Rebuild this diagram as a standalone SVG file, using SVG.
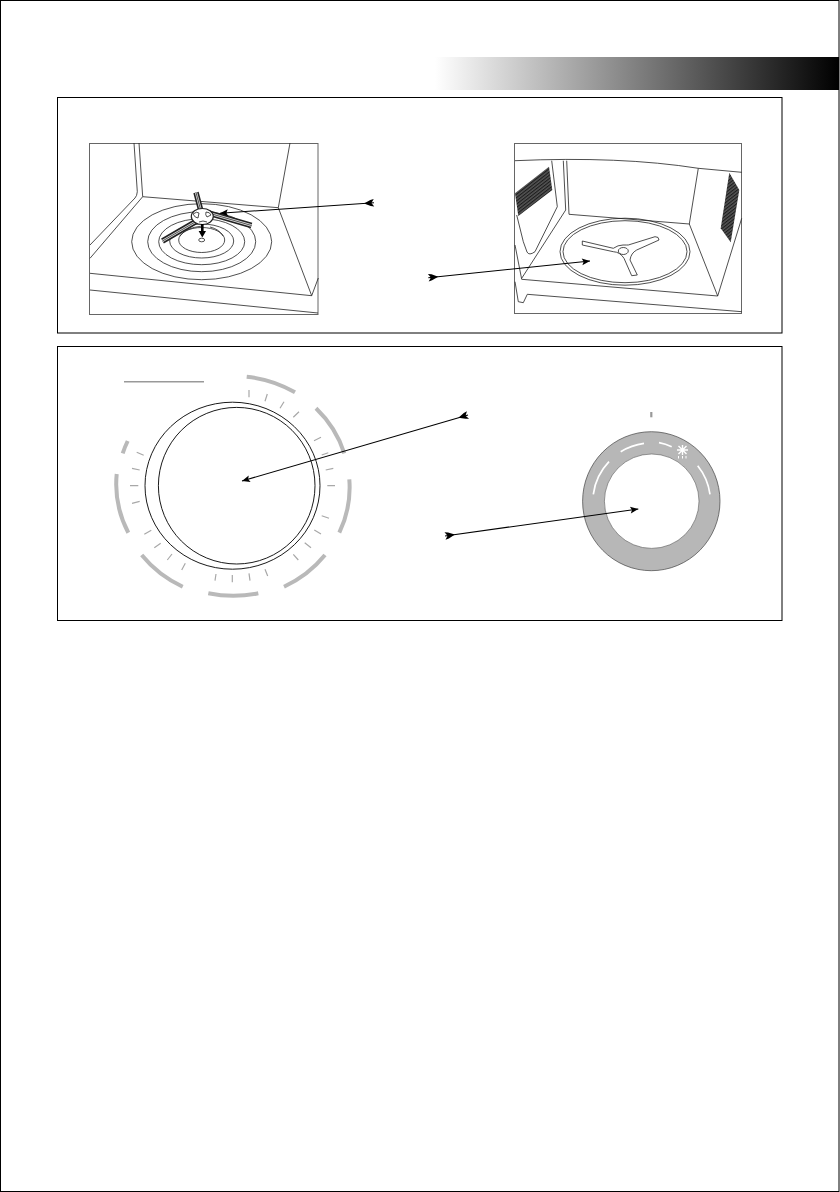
<svg xmlns="http://www.w3.org/2000/svg" width="840" height="1192" viewBox="0 0 840 1192">
<style>
.ink{fill:none;stroke:#222;stroke-width:.8}
.photo{fill:#fff;stroke:#666;stroke-width:1}
.panel{fill:#fff;stroke:#000;stroke-width:1}
.tick{stroke:#a8a8a8;stroke-width:1.2;fill:none}
.band{stroke:#b9b9b9;stroke-width:4;fill:none}
.slot{stroke:#fff;stroke-width:1.7;fill:none}
.lead{stroke:#000;stroke-width:1.1;fill:none;marker-start:url(#fletch);marker-end:url(#head)}
</style>
<defs>
<linearGradient id="fade" x1="0" y1="0" x2="1" y2="0"><stop offset="0" stop-color="#fff"/><stop offset="1" stop-color="#000"/></linearGradient>
<pattern id="mesh" width="2.6" height="2.6" patternUnits="userSpaceOnUse" patternTransform="rotate(-38)"><rect width="2.6" height="2.6" fill="#555"/><rect width="2.6" height="1.1" fill="#1c1c1c"/></pattern>
<marker id="head" markerUnits="userSpaceOnUse" markerWidth="12" markerHeight="12" refX="9" refY="6" orient="auto"><path d="M1,2.6 L9,6 L1,9.4 L2.6,6 Z" fill="#000"/></marker>
<marker id="fletch" markerUnits="userSpaceOnUse" markerWidth="14" markerHeight="12" refX="1" refY="6" orient="auto"><path d="M1,2.2 L4.5,3 L11,6 L4.5,9 L1,9.8 L3.6,6 Z" fill="#000"/></marker>
</defs>
<rect width="840" height="1192" fill="#fff"/>
<rect x=".5" y=".5" width="838.5" height="1191" fill="none" stroke="#000"/>
<rect id="header-band" x="435" y="57" width="404" height="33" fill="url(#fade)"/>
<rect id="panel-top" class="panel" x="57.5" y="97.5" width="724.5" height="235.5"/>
<rect id="panel-bottom" class="panel" x="57.5" y="346.5" width="724.5" height="274"/>

<g id="oven-left">
<rect class="photo" x="89.5" y="143.5" width="228.5" height="171"/>
<path class="ink" d="M134,143 L137.3,191.7 Q137,196 135,198 L90,245 M139,143 L142.7,196.7 L90,258.3 M142.7,196.7 L278.3,207.7 M290,143 L278.3,207.7 L311.7,295.7 L318.3,278 M90,273.3 L311.7,295.7 M90,290 L318,313"/>
<ellipse class="ink" cx="201.7" cy="241.7" rx="70" ry="38"/>
<ellipse class="ink" cx="201.7" cy="241.7" rx="54" ry="30"/>
<ellipse class="ink" cx="201.7" cy="241.7" rx="43" ry="23"/>
<ellipse class="ink" cx="201.7" cy="241" rx="32" ry="17"/>
<ellipse class="ink" cx="201.7" cy="240" rx="23" ry="12.5"/>
<path class="ink" d="M180,236 Q185,228 202,226 M223,236 Q219,229 210,227"/>
<path d="M196,192.5 L202,215 M251.5,225.5 L205,212 M162.5,241 L202,218" stroke="#222" stroke-width="5.5" fill="none"/>
<path d="M196,192.5 L202,215 M251.5,225.5 L205,212 M162.5,241 L202,218" stroke="#ddd" stroke-width="2.4" fill="none"/>
<path d="M196,192.5 L202,215 M251.5,225.5 L205,212 M162.5,241 L202,218" stroke="#444" stroke-width=".9" fill="none"/>
<ellipse cx="202.3" cy="216.5" rx="11" ry="8" fill="#fff" stroke="#222" stroke-width="1.2"/>
<path class="ink" d="M193,214 Q197,211 199,213 L198,218 Q195,218 193,214 M206,212 Q210,212 211,215 L207,217 Q205,215 206,212 M199,222 Q203,220 207,222"/>
<path d="M202.3,224 V232" stroke="#000" stroke-width="2.6"/>
<path d="M198.6,231 H206 L202.3,237.5 Z" fill="#000"/>
<ellipse class="ink" cx="201.7" cy="240" rx="3" ry="1.8"/>
</g>

<g id="oven-right">
<rect class="photo" x="514.5" y="143.5" width="227" height="170"/>
<path d="M515,193.3 L549,166.7 L552.3,190 L518.3,216 Z" fill="url(#mesh)"/>
<path d="M729.3,172.7 L739.3,190 L730.7,242.3 L720.7,228.3 Z" fill="url(#mesh)"/>
<path class="ink" d="M515,160.7 Q620,156 698.3,168.3 L741.7,172.3 M551.7,160.7 L557.3,206.7 L535,251.7 Q529,256 527,252 L523.3,241.7 L516.7,215 M563.3,160.7 L565.7,210 L521.7,278.3 M566.7,160.7 L569,214.3 L689.3,224 L698.3,168.3 M689.3,224 L717.7,296 L741.7,218.3 M521.7,279.3 L717.7,296 M515,245 L521.7,279.3 M515,281.7 L518.3,301.7 L523.3,302.7 L527.3,294.3 M527.3,294.3 L741.7,311.7"/>
<ellipse class="ink" cx="625" cy="251.7" rx="65" ry="33.5"/>
<ellipse class="ink" cx="625" cy="251.7" rx="62" ry="31"/>
<path class="ink" d="M582.3,241 L613.3,248.3 Q618,245 623,245 Q627,245 628.3,245 L655,236.7 Q659,236.5 659,240 L636.7,250 Q631,253 630,260 L637.3,275 L631.7,275.7 L624,258.3 Q620,252 613.3,251.7 L582.3,245 Z"/>
<ellipse class="ink" cx="623.3" cy="251" rx="5" ry="3.5"/>
</g>

<g id="dial-left">
<path class="band" d="M246.7,376.7 A117,110 0 0 1 295,392.3"/>
<path class="band" d="M316,408.3 A117,110 0 0 1 344.3,453.3"/>
<path class="band" d="M349.3,479.3 A117,110 0 0 1 339.3,532.7"/>
<path class="band" d="M325,555 A117,110 0 0 1 284,586.7"/>
<path class="band" d="M258.3,593.3 A117,110 0 0 1 208.3,593.3"/>
<path class="band" d="M182.7,586.7 A117,110 0 0 1 141.7,555"/>
<path class="band" d="M128.3,532.7 A117,110 0 0 1 116.7,474"/>
<path class="band" d="M122.7,453.3 A117,110 0 0 1 127.7,441"/>
<path class="tick" d="M249,390V397.3M267.3,394L265,401.3M284,401.7L280,408.3M299,411.7L293.3,417.3M321,437.3L314,440.7M328.3,452.7L321.7,455M333.3,468.3L325.7,470M335,485.7H327.3M329,518.3L321.7,515.7M321,534L314.3,530M311,547.7L304.7,542.7M298.3,560L293.3,554.3M267.7,576L265,569.3M250,580.7L249,573.3M232.3,582.3V575M215,580.7L216,574M181.7,570L185.3,563.3M167.3,560L172,554M154.3,547.7L160.7,543.3M144.3,534.3L151.3,530.3M132,503.3L139.7,501.3M130,485.7H138.3M132,468.3L139.7,470M136.7,452.3L143.7,455.3"/>
<path d="M124,381.7H204" stroke="#999" stroke-width="1.5"/>
<ellipse cx="232.5" cy="485.7" rx="87.5" ry="83.5" fill="none" stroke="#000" stroke-width=".9"/>
<ellipse cx="236.7" cy="485.7" rx="78.3" ry="78.3" fill="none" stroke="#000" stroke-width=".9"/>
</g>

<g id="dial-right">
<path d="M651.3,412V417.3" stroke="#999" stroke-width="2.2"/>
<path fill-rule="evenodd" fill="#b7b7b7" d="M582.6,501.2 a68.7,69.5 0 1 0 137.4,0 a68.7,69.5 0 1 0 -137.4,0 Z M604.4,501.2 a47.3,47.2 0 1 1 94.6,0 a47.3,47.2 0 1 1 -94.6,0 Z"/>
<ellipse cx="651.3" cy="501.2" rx="68.7" ry="69.5" fill="none" stroke="#444" stroke-width=".7"/>
<ellipse cx="651.7" cy="501.2" rx="47.3" ry="47.2" fill="none" stroke="#555" stroke-width=".6"/>
<path class="slot" d="M593.3,494.3 A58.5,58.5 0 0 1 609,461.7"/>
<path class="slot" d="M620.7,451.7 A58.5,58.5 0 0 1 644,443.3"/>
<path class="slot" d="M659,442.7 A58.5,58.5 0 0 1 671.7,446.7"/>
<path class="slot" d="M697.7,465.7 A58.5,58.5 0 0 1 710,494.3"/>
<path d="M682.5,445V455M677,450H688M678.5,446L686.5,454M686.5,446L678.5,454" stroke="#fff" stroke-width="1.4" fill="none"/>
<path d="M678.5,456V458.5M682.5,456V458.5M686,456V458.5" stroke="#fff" stroke-width="1" fill="none"/>
</g>

<g id="connectors">
<line class="lead" x1="374" y1="202.7" x2="220" y2="213.3"/>
<line class="lead" x1="428.3" y1="277.7" x2="590" y2="261"/>
<line class="lead" x1="468" y1="415" x2="242" y2="481"/>
<line class="lead" x1="445" y1="536" x2="638.3" y2="509"/>
</g>
</svg>
